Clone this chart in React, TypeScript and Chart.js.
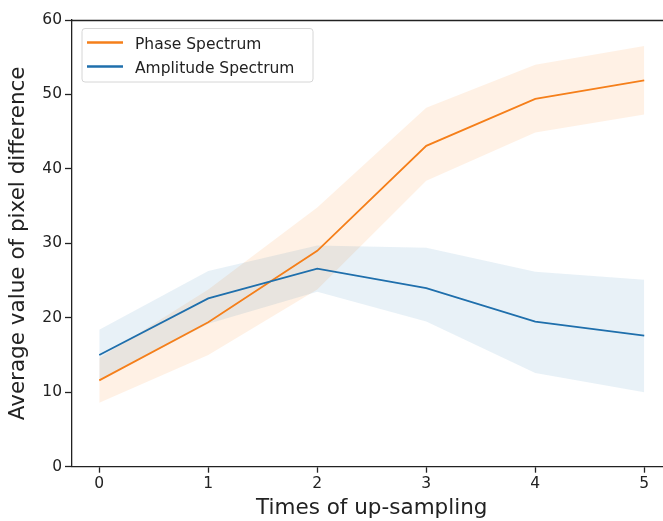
import React, { useEffect, useRef } from "react";
import { Chart, registerables } from "chart.js";

Chart.register(...registerables);

const xValues = [0, 1, 2, 3, 4, 5];
const xTickValues = [0, 1, 2, 3, 4, 5];
const yTickValues = [0, 10, 20, 30, 40, 50, 60];

const phaseMean = [11.6, 19.4, 29.0, 43.1, 49.4, 51.9];
const phaseUpper = [14.6, 23.8, 34.8, 48.2, 54.0, 56.5];
const phaseLower = [8.6, 15.0, 23.8, 38.4, 44.9, 47.3];

const ampMean = [15.0, 22.6, 26.6, 24.0, 19.5, 17.6];
const ampUpper = [18.4, 26.3, 29.7, 29.4, 26.2, 25.1];
const ampLower = [11.6, 19.2, 23.5, 19.5, 12.6, 10.0];

const seriesNames = ["Phase Spectrum", "Amplitude Spectrum"];
const xTitle = "Times of up-sampling";
const yTitle = "Average value of pixel difference";

const ORANGE = "#f57f1a";
const BLUE = "#1f6fac";
const FONT = "DejaVu Sans";
const AXIS = "#222222";

export default function App() {
  const ref = useRef<HTMLCanvasElement>(null);

  useEffect(() => {
    const canvas = ref.current;
    if (!canvas) return;
    const pts = (arr: number[]) => xValues.map((x, i) => ({ x, y: arr[i] }));

    const spinePlugin = {
      id: "topSpine",
      afterDraw(chart: any) {
        const { ctx, chartArea } = chart;
        ctx.save();
        ctx.strokeStyle = AXIS;
        ctx.lineWidth = 1.3;
        ctx.beginPath();
        ctx.moveTo(chartArea.left, Math.round(chartArea.top) + 0.5);
        ctx.lineTo(chartArea.right, Math.round(chartArea.top) + 0.5);
        ctx.moveTo(chartArea.right, chartArea.top);
        ctx.lineTo(chartArea.right, chartArea.bottom);
        ctx.stroke();
        ctx.restore();
      },
    };

    const legendPlugin = {
      id: "customLegend",
      afterDraw(chart: any) {
        const { ctx } = chart;
        ctx.save();
        const bx = 82, by = 28.5, bw = 231, bh = 53.5, r = 3;
        ctx.beginPath();
        ctx.moveTo(bx + r, by);
        ctx.lineTo(bx + bw - r, by);
        ctx.quadraticCurveTo(bx + bw, by, bx + bw, by + r);
        ctx.lineTo(bx + bw, by + bh - r);
        ctx.quadraticCurveTo(bx + bw, by + bh, bx + bw - r, by + bh);
        ctx.lineTo(bx + r, by + bh);
        ctx.quadraticCurveTo(bx, by + bh, bx, by + bh - r);
        ctx.lineTo(bx, by + r);
        ctx.quadraticCurveTo(bx, by, bx + r, by);
        ctx.closePath();
        ctx.fillStyle = "rgba(255,255,255,0.8)";
        ctx.fill();
        ctx.strokeStyle = "#d6d6d6";
        ctx.lineWidth = 1;
        ctx.stroke();
        const colors = [ORANGE, BLUE];
        const rows = [42.5, 66.5];
        ctx.font = `15.5px "${FONT}"`;
        ctx.textBaseline = "alphabetic";
        ctx.textAlign = "left";
        seriesNames.forEach((name, i) => {
          ctx.strokeStyle = colors[i];
          ctx.lineWidth = 2.4;
          ctx.beginPath();
          ctx.moveTo(87, rows[i]);
          ctx.lineTo(123, rows[i]);
          ctx.stroke();
          ctx.fillStyle = AXIS;
          ctx.fillText(name, 135, rows[i] + 6);
        });
        ctx.restore();
      },
    };

    const tickFont = { family: FONT, size: 15.5 };
    const titleFont = { family: FONT, size: 21.5 };

    const chart = new Chart(canvas, {
      type: "line",
      data: {
        datasets: [
          {
            label: seriesNames[1],
            data: pts(ampMean),
            borderColor: BLUE,
            borderWidth: 1.8,
            pointRadius: 0,
            fill: false,
            tension: 0,
          },
          {
            label: seriesNames[0],
            data: pts(phaseMean),
            borderColor: ORANGE,
            borderWidth: 1.8,
            pointRadius: 0,
            fill: false,
            tension: 0,
          },
          {
            label: "ampUpper",
            data: pts(ampUpper),
            borderColor: "rgba(0,0,0,0)",
            borderWidth: 0,
            pointRadius: 0,
            backgroundColor: "rgba(31,119,180,0.1)",
            fill: "+1",
            tension: 0,
          },
          {
            label: "ampLower",
            data: pts(ampLower),
            borderColor: "rgba(0,0,0,0)",
            borderWidth: 0,
            pointRadius: 0,
            fill: false,
            tension: 0,
          },
          {
            label: "phaseUpper",
            data: pts(phaseUpper),
            borderColor: "rgba(0,0,0,0)",
            borderWidth: 0,
            pointRadius: 0,
            backgroundColor: "rgba(255,127,14,0.11)",
            fill: "+1",
            tension: 0,
          },
          {
            label: "phaseLower",
            data: pts(phaseLower),
            borderColor: "rgba(0,0,0,0)",
            borderWidth: 0,
            pointRadius: 0,
            fill: false,
            tension: 0,
          },
        ],
      },
      options: {
        animation: false,
        responsive: false,
        devicePixelRatio: 1,
        layout: { padding: { top: 20, right: 18.5, left: 0, bottom: 0 } },
        plugins: {
          legend: { display: false },
          tooltip: { enabled: false },
          filler: { drawTime: "beforeDatasetsDraw" } as any,
        },
        scales: {
          x: {
            type: "linear",
            min: -0.25,
            max: 5.25,
            afterBuildTicks: (s: any) => {
              s.ticks = xTickValues.map((v) => ({ value: v }));
            },
            afterFit: (s: any) => {
              s.height = 54.3;
            },
            ticks: { font: tickFont, color: AXIS, padding: 2, maxRotation: 0, autoSkip: false },
            grid: {
              display: true,
              drawOnChartArea: false,
              drawTicks: true,
              tickLength: 6,
              tickColor: AXIS,
              tickWidth: 1.3,
            },
            border: { display: true, color: AXIS, width: 1.3 },
            title: { display: true, text: xTitle, font: titleFont, color: AXIS, padding: { top: 0, bottom: 0 } },
          },
          y: {
            type: "linear",
            min: 0,
            max: 60,
            afterBuildTicks: (s: any) => {
              s.ticks = yTickValues.map((v) => ({ value: v }));
            },
            afterFit: (s: any) => {
              s.width = 72;
            },
            ticks: { font: tickFont, color: AXIS, padding: 3, autoSkip: false },
            grid: {
              display: true,
              drawOnChartArea: false,
              drawTicks: true,
              tickLength: 7,
              tickColor: AXIS,
              tickWidth: 1.3,
            },
            border: { display: true, color: AXIS, width: 1.3 },
            title: { display: true, text: yTitle, font: titleFont, color: AXIS, padding: { top: 6, bottom: 0 } },
          },
        },
      },
      plugins: [spinePlugin, legendPlugin],
    });

    return () => chart.destroy();
  }, []);

  return (
    <div
      style={{
        position: "absolute",
        left: 0,
        top: 0,
        width: 663,
        height: 521,
        overflow: "hidden",
        background: "#ffffff",
      }}
    >
      <canvas ref={ref} width={690} height={521} style={{ display: "block" }} />
    </div>
  );
}
